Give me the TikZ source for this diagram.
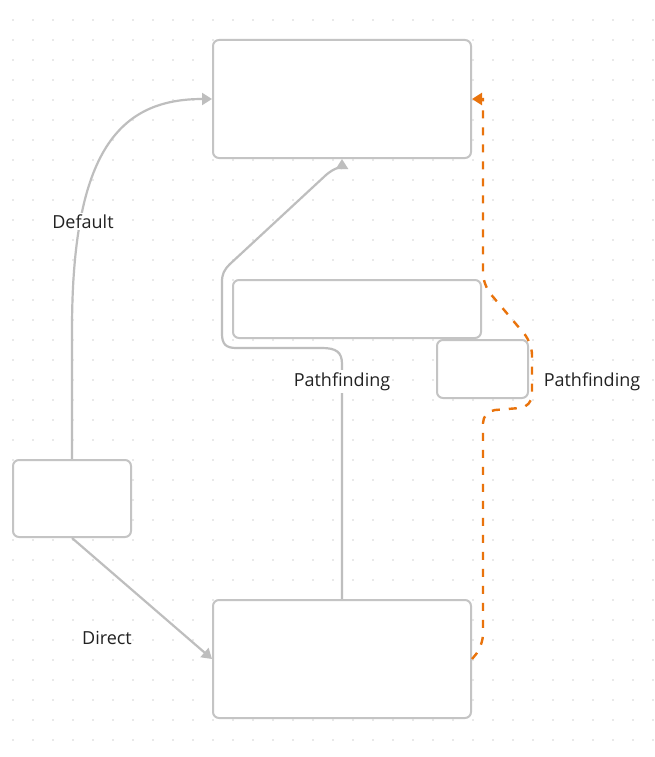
\documentclass[tikz,border=0pt]{standalone}
\usepackage{fontspec}
\setmainfont{Open Sans}
\usetikzlibrary{arrows.meta}
\definecolor{edgegray}{RGB}{190,190,190}
\definecolor{boxgray}{RGB}{196,196,196}
\definecolor{dotgray}{RGB}{212,212,212}
\definecolor{orng}{RGB}{233,115,12}
\definecolor{txt}{RGB}{34,34,34}
\begin{document}
\begin{tikzpicture}[x=1pt,y=-1pt,
 card/.style={draw=boxgray,line width=2pt,fill=white,rounded corners=6pt,inner sep=0pt},
 conn/.style={draw=edgegray,line width=2.2pt,-{Triangle[length=10pt,width=12pt]}},
 hot/.style={draw=orng,line width=2.4pt,dash pattern=on 8pt off 9pt,-{Triangle[length=10pt,width=12pt]}},
 lbl/.style={text=txt,font=\fontsize{18}{21}\selectfont,inner sep=2pt},
]
\useasboundingbox (0,0) rectangle (654,757);
\fill[white] (0,0) rectangle (654,757);
\foreach \i in {0,...,32}{\foreach \j in {1,...,37}{\fill[dotgray] (13+20*\i,20*\j) circle (0.9pt);}}

\node[card,minimum width=258pt,minimum height=118pt] (top) at (342,99) {};
\node[card,minimum width=248pt,minimum height=58pt] (mid) at (357,309) {};
\node[card,minimum width=91pt,minimum height=58pt] (small) at (482.5,369) {};
\node[card,minimum width=118pt,minimum height=77pt] (left) at (72,498.5) {};
\node[card,minimum width=258pt,minimum height=118pt] (bot) at (342,659) {};

\draw[conn] (left.north) -- (72,330) .. controls (72,150) and (120,99) .. (top.west);
\draw[conn] (left.south) -- (bot.west);
\draw[conn] (bot.north) -- (342,364) .. controls (342,352) and (336,348) .. (322,348) -- (236,348) .. controls (226,348) and (222,344) .. (222,334) -- (222,282) .. controls (222,274) and (224,270) .. (230,264) -- (326,175) .. controls (334,168) and (342,166) .. (top.south);
\draw[hot,rounded corners=12pt] (bot.east) -- (483,646) -- (483,411) -- (532,407) -- (532,343) -- (483,285) -- (483,110) [sharp corners] -- (483,99) -- (top.east);

\node[lbl,fill=white] (ldefault) at (83,221.5) {Default};
\node[lbl] (ldirect) at (107,637.5) {Direct};
\node[lbl,fill=white] (lpath1) at (342,381.5) {Pathfinding};
\node[lbl] (lpath2) at (592,381.5) {Pathfinding};
\end{tikzpicture}
\end{document}
